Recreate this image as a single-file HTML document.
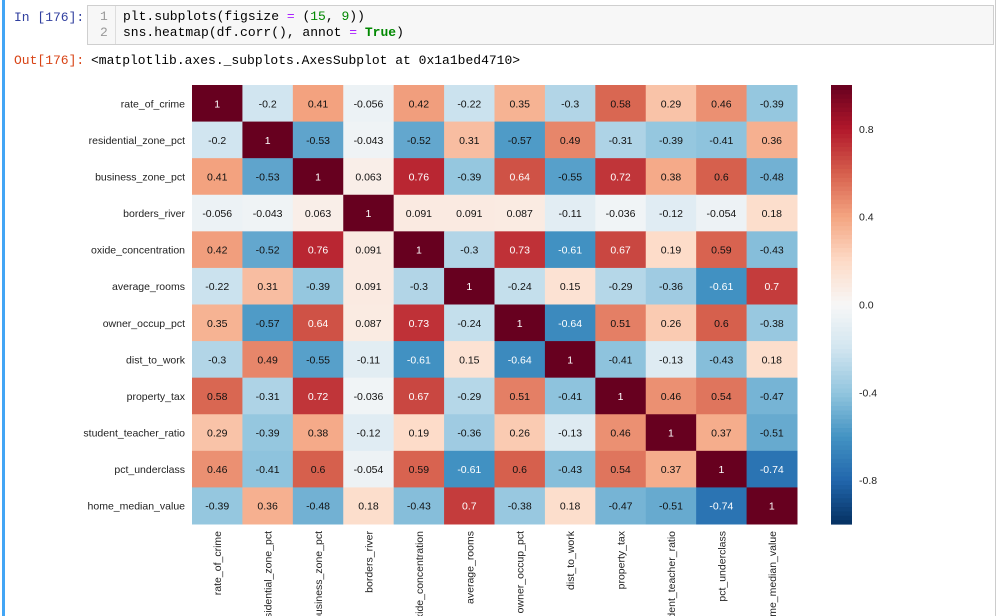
<!DOCTYPE html>
<html><head><meta charset="utf-8"><style>
body{margin:0;background:#fff;width:1000px;height:616px;overflow:hidden;font-family:"Liberation Sans",sans-serif;position:relative}
.mono{font-family:"Liberation Mono",monospace;font-size:13px}
</style></head><body>
<div style="position:absolute;left:2px;top:0;width:3px;height:616px;background:#42a5f5"></div>
<div style="position:absolute;left:995px;top:0;width:1px;height:616px;background:#ccc"></div>
<div class="mono" style="position:absolute;left:14px;top:10px;color:#303f9f">In [176]:</div>
<div style="position:absolute;left:87px;top:5px;width:905px;height:38px;background:#f7f7f7;border:1px solid #cfcfcf"></div>
<div class="mono" style="position:absolute;left:100px;top:9px;color:#999;line-height:16px">1<br>2</div>
<div style="position:absolute;left:115px;top:6px;width:1px;height:38px;background:#ddd"></div>
<div class="mono" style="position:absolute;left:123px;top:9px;line-height:16px;color:#000">plt.subplots(figsize <span style="color:#aa22ff">=</span> (<span style="color:#080">15</span>, <span style="color:#080">9</span>))<br>sns.heatmap(df.corr(), annot <span style="color:#aa22ff">=</span> <b style="color:#080">True</b>)</div>
<div class="mono" style="position:absolute;left:14px;top:53px;color:#d84315">Out[176]:</div>
<div class="mono" style="position:absolute;left:91px;top:53px">&lt;matplotlib.axes._subplots.AxesSubplot at 0x1a1bed4710&gt;</div>
<svg id="chart" width="1000" height="616" style="position:absolute;left:0;top:0"></svg>
<script>
const labels=["rate_of_crime","residential_zone_pct","business_zone_pct","borders_river","oxide_concentration","average_rooms","owner_occup_pct","dist_to_work","property_tax","student_teacher_ratio","pct_underclass","home_median_value"];
const r0=[1,-0.2,0.41,-0.056,0.42,-0.22,0.35,-0.3,0.58,0.29,0.46,-0.39];
const r1=[-0.2,1,-0.53,-0.043,-0.52,0.31,-0.57,0.49,-0.31,-0.39,-0.41,0.36];
const r2=[0.41,-0.53,1,0.063,0.76,-0.39,0.64,-0.55,0.72,0.38,0.6,-0.48];
const r3=[-0.056,-0.043,0.063,1,0.091,0.091,0.087,-0.11,-0.036,-0.12,-0.054,0.18];
const r4=[0.42,-0.52,0.76,0.091,1,-0.3,0.73,-0.61,0.67,0.19,0.59,-0.43];
const r5=[-0.22,0.31,-0.39,0.091,-0.3,1,-0.24,0.15,-0.29,-0.36,-0.61,0.7];
const r6=[0.35,-0.57,0.64,0.087,0.73,-0.24,1,-0.64,0.51,0.26,0.6,-0.38];
const r7=[-0.3,0.49,-0.55,-0.11,-0.61,0.15,-0.64,1,-0.41,-0.13,-0.43,0.18];
const r8=[0.58,-0.31,0.72,-0.036,0.67,-0.29,0.51,-0.41,1,0.46,0.54,-0.47];
const r9=[0.29,-0.39,0.38,-0.12,0.19,-0.36,0.26,-0.13,0.46,1,0.37,-0.51];
const r10=[0.46,-0.41,0.6,-0.054,0.59,-0.61,0.6,-0.43,0.54,0.37,1,-0.74];
const r11=[-0.39,0.36,-0.48,0.18,-0.43,0.7,-0.38,0.18,-0.47,-0.51,-0.74,1];
const rows=[r0,r1,r2,r3,r4,r5,r6,r7,r8,r9,r10,r11];
const cbTicks=[0.8,0.4,0.0,-0.4,-0.8];
const X0=192,X1=797,Y0=85,Y1=524,CB0=831,CB1=852,VMIN=-1,VMAX=1;
const stops=["#053061","#2166ac","#4393c3","#92c5de","#d1e5f0","#f7f7f7","#fddbc7","#f4a582","#d6604d","#b2182b","#67001f"];
function hx(h){return[1,3,5].map(i=>parseInt(h.substr(i,2),16));}
function cmap(v){let t=(v-VMIN)/(VMAX-VMIN)*10;t=Math.max(0,Math.min(10,t));const i=Math.min(9,Math.floor(t)),f=t-i;const a=hx(stops[i]),b=hx(stops[i+1]);return`rgb(${a.map((c,k)=>Math.round(c+(b[k]-c)*f)).join(',')})`;}
const n=labels.length,cw=(X1-X0)/n,ch=(Y1-Y0)/n;
const xs=i=>X0+i*cw, ys=i=>Y0+i*ch, cy=v=>Y1-(v-VMIN)/(VMAX-VMIN)*(Y1-Y0);
const svg=document.getElementById('chart'),NS="http://www.w3.org/2000/svg";
function mk(t,a,p){const e=document.createElementNS(NS,t);for(const k in a)e.setAttribute(k,a[k]);(p||svg).appendChild(e);return e;}
rows.forEach((row,r)=>{row.forEach((v,c)=>{
 const rc=mk('rect',{x:xs(c),y:ys(r),width:cw+0.5,height:ch+0.5,fill:cmap(v)});
 
 
 const t=mk('text',{x:xs(c)+cw/2,y:ys(r)+ch/2+4,'text-anchor':'middle','font-size':'10.5',fill:Math.abs(v)>0.6?'#fff':'#111'});
 t.textContent=String(v);
 
 
});});
labels.forEach((l,i)=>{
 const t=mk('text',{x:185,y:ys(i)+ch/2+4,'text-anchor':'end','font-size':'10.5',fill:'#222'});t.textContent=l;
 
 
 const tx=xs(i)+cw/2+4;
 const u=mk('text',{x:0,y:0,transform:`translate(${tx},531) rotate(-90)`,'text-anchor':'end','font-size':'10.5',fill:'#222'});u.textContent=l;
 
 
});
for(let k=0;k<100;k++){const v0=VMIN+(VMAX-VMIN)*k/100,v1=VMIN+(VMAX-VMIN)*(k+1)/100;
 const rc=mk('rect',{x:CB0,y:cy(v1),width:CB1-CB0,height:cy(v0)-cy(v1)+0.6,fill:cmap((v0+v1)/2)});
 
 }
cbTicks.forEach(v=>{const t=mk('text',{x:859,y:cy(v)+4,'font-size':'10.5',fill:'#222'});t.textContent=v.toFixed(1);
 
 });
</script>
</body></html>
